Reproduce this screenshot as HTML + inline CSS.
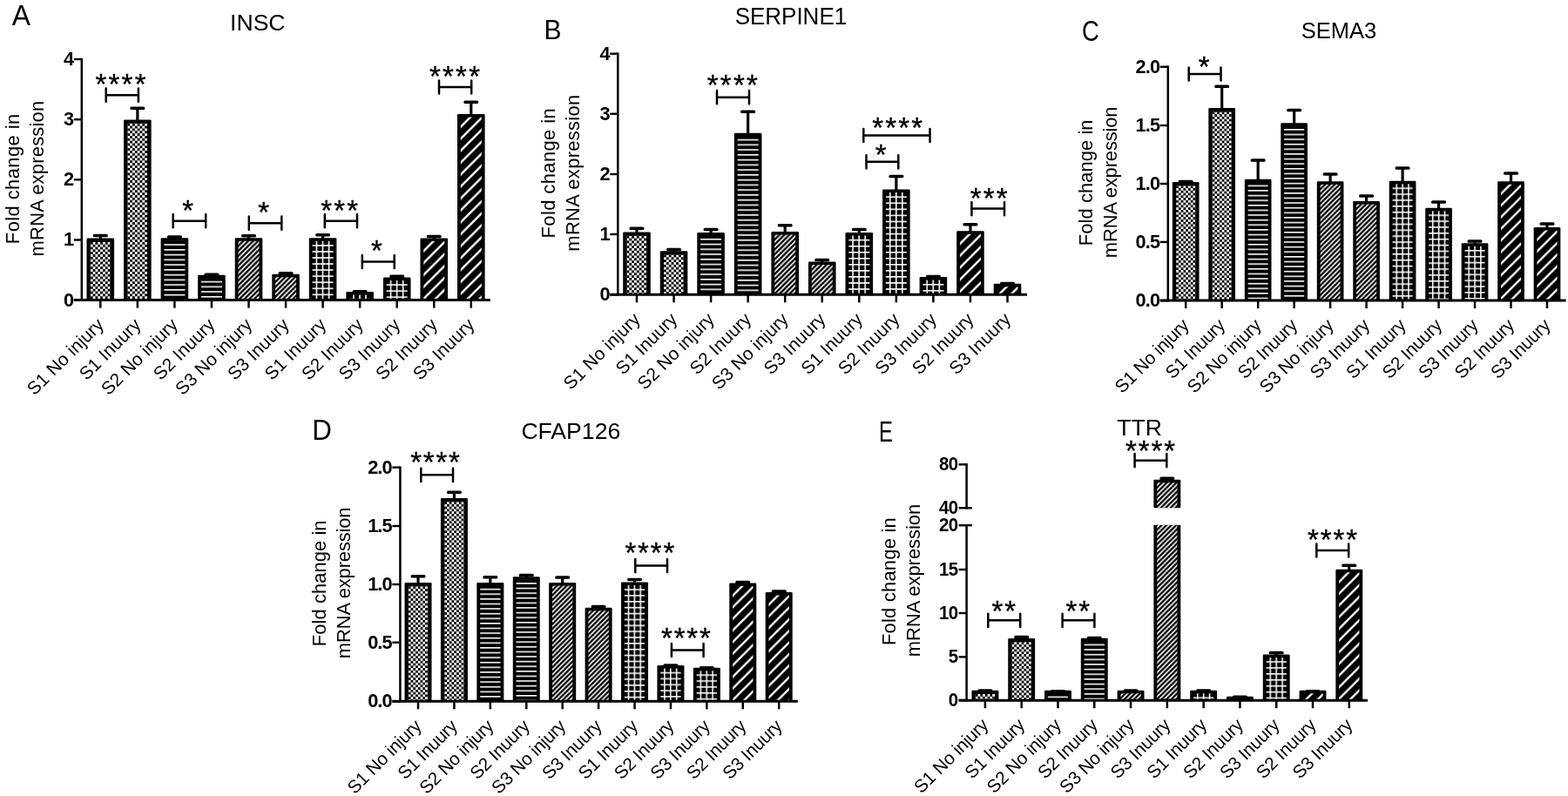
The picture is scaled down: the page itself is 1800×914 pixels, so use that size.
<!DOCTYPE html>
<html lang="en"><head><meta charset="utf-8"><title>Fold change in mRNA expression</title>
<style>
html,body{margin:0;padding:0;background:#fff;}
body{width:1800px;height:914px;overflow:hidden;}
svg{display:block;font-family:"Liberation Sans", sans-serif;}
#fig{filter:blur(0.6px);}
.tk{font-weight:bold;font-size:22.2px;text-anchor:end;letter-spacing:-0.9px;}
.xl{font-size:20.8px;text-anchor:end;letter-spacing:0.08px;}
.yl{font-size:22px;text-anchor:middle;letter-spacing:0.38px;}
.y2{letter-spacing:0.19px;}
.tt{font-size:26.6px;text-anchor:middle;}
.pl{font-size:33px;text-anchor:start;}
.st{font-size:33px;text-anchor:middle;letter-spacing:2.2px;stroke:#000;stroke-width:0.35;}
.ln{stroke:#000;fill:none;}
.bk{stroke:#000;fill:none;stroke-width:2.5;stroke-linecap:round;}
.eb{stroke:#000;fill:none;stroke-width:3.2;}
</style></head><body>
<svg width="1800" height="914" viewBox="0 0 1800 914" role="img" aria-label="Fold change in mRNA expression: INSC, SERPINE1, SEMA3, CFAP126, TTR">
<defs>
<pattern id="chk" x="2.83" y="0" width="5.67" height="5.67" patternUnits="userSpaceOnUse"><rect x="0" y="0" width="2.83" height="2.83" fill="#fff"/><rect x="2.83" y="2.83" width="2.83" height="2.83" fill="#fff"/></pattern>
<pattern id="hl" x="0" y="3.4" width="40" height="5.76" patternUnits="userSpaceOnUse"><rect x="0" y="0" width="40" height="1.6" fill="#fff"/></pattern>
<pattern id="grid" x="4" y="4.3" width="7.05" height="7.05" patternUnits="userSpaceOnUse"><rect x="0" y="0" width="7.05" height="1.6" fill="#fff"/><rect x="0" y="0" width="1.6" height="7.05" fill="#fff"/></pattern>
<pattern id="dg" x="2.83" y="0" width="5.67" height="5.67" patternUnits="userSpaceOnUse"><path d="M-5.67 5.67L5.67 -5.67M-5.67 11.34L11.34 -5.67M0 11.34L11.34 0" stroke="#fff" stroke-width="1.6" fill="none"/></pattern>
<pattern id="DG" x="11.2" y="0" width="13.7" height="13.7" patternUnits="userSpaceOnUse"><path d="M-13.7 13.7L13.7 -13.7M-13.7 27.4L27.4 -13.7M0 27.4L27.4 0" stroke="#fff" stroke-width="2.5" fill="none"/></pattern>
</defs>
<rect x="-20" y="-20" width="1840" height="954" fill="#fff"/>
<g id="fig">
<g>
<text class="pl" transform="translate(13.8,29) scale(0.95,1)" style="font-size:33.5px">A</text>
<text class="tt" transform="translate(295.8,35) scale(1,1)">INSC</text>
<text class="yl" transform="translate(21.6,205.3) rotate(-90)">Fold change in</text>
<text class="yl y2" transform="translate(49.7,205) rotate(-90)">mRNA expression</text>
<path class="eb" d="M115.3 274.6V270.5"/>
<rect x="106.8" y="268.75" width="17" height="3.5" rx="1.55" fill="#000"/>
<rect x="99.5" y="273.6" width="31.6" height="71" rx="1.2" fill="#000"/>
<svg x="103.8" y="277.9" width="22.64" height="65.5"><rect x="-50" y="-50" width="200" height="900" fill="url(#chk)"/></svg>
<path class="eb" d="M157.85 138.5V124.2"/>
<rect x="149.35" y="122.45" width="17" height="3.5" rx="1.55" fill="#000"/>
<rect x="142.05" y="137.5" width="31.6" height="207.1" rx="1.2" fill="#000"/>
<svg x="146.35" y="141.8" width="22.64" height="201.6"><rect x="-50" y="-50" width="200" height="900" fill="url(#chk)"/></svg>
<path class="eb" d="M200.4 274.3V272"/>
<rect x="191.9" y="270.25" width="17" height="3.5" rx="1.55" fill="#000"/>
<rect x="184.6" y="273.3" width="31.6" height="71.3" rx="1.2" fill="#000"/>
<svg x="188.4" y="276.8" width="24" height="66.6"><rect x="-50" y="-50" width="200" height="900" fill="url(#hl)"/></svg>
<path class="eb" d="M242.95 316.8V315.3"/>
<rect x="234.45" y="313.55" width="17" height="3.5" rx="1.55" fill="#000"/>
<rect x="227.15" y="315.8" width="31.6" height="28.8" rx="1.2" fill="#000"/>
<svg x="230.95" y="319.3" width="24" height="24.1"><rect x="-50" y="-50" width="200" height="900" fill="url(#hl)"/></svg>
<path class="eb" d="M285.5 274.3V270.8"/>
<rect x="277" y="269.05" width="17" height="3.5" rx="1.55" fill="#000"/>
<rect x="269.7" y="273.3" width="31.6" height="71.3" rx="1.2" fill="#000"/>
<svg x="273.5" y="276.8" width="24" height="66.6"><rect x="-50" y="-50" width="200" height="900" fill="url(#dg)"/></svg>
<path class="eb" d="M328.05 315.7V313.8"/>
<rect x="319.55" y="312.05" width="17" height="3.5" rx="1.55" fill="#000"/>
<rect x="312.25" y="314.7" width="31.6" height="29.9" rx="1.2" fill="#000"/>
<svg x="316.05" y="318.2" width="24" height="25.2"><rect x="-50" y="-50" width="200" height="900" fill="url(#dg)"/></svg>
<path class="eb" d="M370.6 274.3V269.7"/>
<rect x="362.1" y="267.95" width="17" height="3.5" rx="1.55" fill="#000"/>
<rect x="354.8" y="273.3" width="31.6" height="71.3" rx="1.2" fill="#000"/>
<svg x="358.6" y="276.8" width="24" height="66.6"><rect x="-50" y="-50" width="200" height="900" fill="url(#grid)"/></svg>
<rect x="404.65" y="332.95" width="17" height="3.5" rx="1.55" fill="#000"/>
<rect x="397.35" y="335" width="31.6" height="9.6" rx="1.2" fill="#000"/>
<svg x="401.15" y="338.5" width="24" height="4.9"><rect x="-50" y="-50" width="200" height="900" fill="url(#grid)"/></svg>
<path class="eb" d="M455.7 319.5V317.3"/>
<rect x="447.2" y="315.55" width="17" height="3.5" rx="1.55" fill="#000"/>
<rect x="439.9" y="318.5" width="31.6" height="26.1" rx="1.2" fill="#000"/>
<svg x="443.7" y="322" width="24" height="21.4"><rect x="-50" y="-50" width="200" height="900" fill="url(#grid)"/></svg>
<path class="eb" d="M498.25 274.6V271.5"/>
<rect x="489.75" y="269.75" width="17" height="3.5" rx="1.55" fill="#000"/>
<rect x="482.45" y="273.6" width="31.6" height="71" rx="1.2" fill="#000"/>
<svg x="486.25" y="277.1" width="24" height="66.3"><rect x="-50" y="-50" width="200" height="900" fill="url(#DG)"/></svg>
<path class="eb" d="M540.8 132V117.2"/>
<rect x="532.3" y="115.45" width="17" height="3.5" rx="1.55" fill="#000"/>
<rect x="525" y="131" width="31.6" height="213.6" rx="1.2" fill="#000"/>
<svg x="528.8" y="134.5" width="24" height="208.9"><rect x="-50" y="-50" width="200" height="900" fill="url(#DG)"/></svg>
<path class="ln" stroke-width="2.5" d="M93.8 66.75V345.85"/>
<path class="ln" stroke-width="3" d="M84.8 344.6H562.7"/>
<path class="ln" stroke-width="2.4" d="M84.8 68H93.8"/>
<text class="tk" transform="translate(84.12,74.95) scale(0.98,1)">4</text>
<path class="ln" stroke-width="2.4" d="M84.8 137.2H93.8"/>
<text class="tk" transform="translate(84.12,144.15) scale(0.98,1)">3</text>
<path class="ln" stroke-width="2.4" d="M84.8 206.3H93.8"/>
<text class="tk" transform="translate(84.12,213.25) scale(0.98,1)">2</text>
<path class="ln" stroke-width="2.4" d="M84.8 275.5H93.8"/>
<text class="tk" transform="translate(84.12,282.45) scale(0.98,1)">1</text>
<path class="ln" stroke-width="2.4" d="M84.8 344.6H93.8"/>
<text class="tk" transform="translate(84.12,351.55) scale(0.98,1)">0</text>
<path class="ln" stroke-width="2.5" d="M115.3 344.6V353.6"/>
<text class="xl" transform="translate(120.36,374.04) rotate(-45)">S1 No injury</text>
<path class="ln" stroke-width="2.5" d="M157.85 344.6V353.6"/>
<text class="xl" transform="translate(162.91,374.04) rotate(-45)">S1 Inuury</text>
<path class="ln" stroke-width="2.5" d="M200.4 344.6V353.6"/>
<text class="xl" transform="translate(205.46,374.04) rotate(-45)">S2 No injury</text>
<path class="ln" stroke-width="2.5" d="M242.95 344.6V353.6"/>
<text class="xl" transform="translate(248.01,374.04) rotate(-45)">S2 Inuury</text>
<path class="ln" stroke-width="2.5" d="M285.5 344.6V353.6"/>
<text class="xl" transform="translate(290.56,374.04) rotate(-45)">S3 No injury</text>
<path class="ln" stroke-width="2.5" d="M328.05 344.6V353.6"/>
<text class="xl" transform="translate(333.11,374.04) rotate(-45)">S3 Inuury</text>
<path class="ln" stroke-width="2.5" d="M370.6 344.6V353.6"/>
<text class="xl" transform="translate(375.66,374.04) rotate(-45)">S1 Inuury</text>
<path class="ln" stroke-width="2.5" d="M413.15 344.6V353.6"/>
<text class="xl" transform="translate(418.21,374.04) rotate(-45)">S2 Inuury</text>
<path class="ln" stroke-width="2.5" d="M455.7 344.6V353.6"/>
<text class="xl" transform="translate(460.76,374.04) rotate(-45)">S3 Inuury</text>
<path class="ln" stroke-width="2.5" d="M498.25 344.6V353.6"/>
<text class="xl" transform="translate(503.31,374.04) rotate(-45)">S2 Inuury</text>
<path class="ln" stroke-width="2.5" d="M540.8 344.6V353.6"/>
<text class="xl" transform="translate(545.86,374.04) rotate(-45)">S3 Inuury</text>
<path class="bk" d="M121.7 101.6V116.8M121.7 109.2H158.9M158.9 101.6V116.8"/>
<text class="st" x="139.6" y="108.15">****</text>
<path class="bk" d="M198.7 246.1V261.3M198.7 253.7H236.2M236.2 246.1V261.3"/>
<text class="st" x="216.75" y="252.65">*</text>
<path class="bk" d="M285.8 248.6V263.8M285.8 256.2H323.3M323.3 248.6V263.8"/>
<text class="st" x="303.85" y="255.15">*</text>
<path class="bk" d="M372.8 246.1V261.3M372.8 253.7H410M410 246.1V261.3"/>
<text class="st" x="390.7" y="252.65">***</text>
<path class="bk" d="M415.8 292.9V308.1M415.8 300.5H452.7M452.7 292.9V308.1"/>
<text class="st" x="433.55" y="299.45">*</text>
<path class="bk" d="M504 92.4V107.6M504 100H541.2M541.2 92.4V107.6"/>
<text class="st" x="523.1" y="99.25">****</text>
</g>
<g>
<text class="pl" transform="translate(624.5,44.8) scale(0.94,1)" style="font-size:32px">B</text>
<text class="tt" transform="translate(907.9,27.5) scale(0.97,1)" style="font-size:26.8px">SERPINE1</text>
<text class="yl" transform="translate(637,198.7) rotate(-90)" style="letter-spacing:0.38px">Fold change in</text>
<text class="yl y2" transform="translate(665,198.6) rotate(-90)" style="letter-spacing:0.27px">mRNA expression</text>
<path class="eb" d="M731 267.5V262.2"/>
<rect x="722.5" y="260.45" width="17" height="3.5" rx="1.55" fill="#000"/>
<rect x="715.2" y="266.5" width="31.6" height="71.8" rx="1.2" fill="#000"/>
<svg x="719.5" y="270.8" width="22.64" height="66.3"><rect x="-50" y="-50" width="200" height="900" fill="url(#chk)"/></svg>
<path class="eb" d="M773.55 289.2V286.5"/>
<rect x="765.05" y="284.75" width="17" height="3.5" rx="1.55" fill="#000"/>
<rect x="757.75" y="288.2" width="31.6" height="50.1" rx="1.2" fill="#000"/>
<svg x="762.05" y="292.5" width="22.64" height="44.6"><rect x="-50" y="-50" width="200" height="900" fill="url(#chk)"/></svg>
<path class="eb" d="M816.1 268V263.5"/>
<rect x="807.6" y="261.75" width="17" height="3.5" rx="1.55" fill="#000"/>
<rect x="800.3" y="267" width="31.6" height="71.3" rx="1.2" fill="#000"/>
<svg x="804.1" y="270.5" width="24" height="66.6"><rect x="-50" y="-50" width="200" height="900" fill="url(#hl)"/></svg>
<path class="eb" d="M858.65 153.8V128.3"/>
<rect x="850.15" y="126.55" width="17" height="3.5" rx="1.55" fill="#000"/>
<rect x="842.85" y="152.8" width="31.6" height="185.5" rx="1.2" fill="#000"/>
<svg x="846.65" y="156.3" width="24" height="180.8"><rect x="-50" y="-50" width="200" height="900" fill="url(#hl)"/></svg>
<path class="eb" d="M901.2 267V258.7"/>
<rect x="892.7" y="256.95" width="17" height="3.5" rx="1.55" fill="#000"/>
<rect x="885.4" y="266" width="31.6" height="72.3" rx="1.2" fill="#000"/>
<svg x="889.2" y="269.5" width="24" height="67.6"><rect x="-50" y="-50" width="200" height="900" fill="url(#dg)"/></svg>
<path class="eb" d="M943.75 301.5V298.5"/>
<rect x="935.25" y="296.75" width="17" height="3.5" rx="1.55" fill="#000"/>
<rect x="927.95" y="300.5" width="31.6" height="37.8" rx="1.2" fill="#000"/>
<svg x="931.75" y="304" width="24" height="33.1"><rect x="-50" y="-50" width="200" height="900" fill="url(#dg)"/></svg>
<path class="eb" d="M986.3 268V263.5"/>
<rect x="977.8" y="261.75" width="17" height="3.5" rx="1.55" fill="#000"/>
<rect x="970.5" y="267" width="31.6" height="71.3" rx="1.2" fill="#000"/>
<svg x="974.3" y="270.5" width="24" height="66.6"><rect x="-50" y="-50" width="200" height="900" fill="url(#grid)"/></svg>
<path class="eb" d="M1028.85 218.6V202.5"/>
<rect x="1020.35" y="200.75" width="17" height="3.5" rx="1.55" fill="#000"/>
<rect x="1013.05" y="217.6" width="31.6" height="120.7" rx="1.2" fill="#000"/>
<svg x="1016.85" y="221.1" width="24" height="116"><rect x="-50" y="-50" width="200" height="900" fill="url(#grid)"/></svg>
<path class="eb" d="M1071.4 319.1V317.6"/>
<rect x="1062.9" y="315.85" width="17" height="3.5" rx="1.55" fill="#000"/>
<rect x="1055.6" y="318.1" width="31.6" height="20.2" rx="1.2" fill="#000"/>
<svg x="1059.4" y="321.6" width="24" height="15.5"><rect x="-50" y="-50" width="200" height="900" fill="url(#grid)"/></svg>
<path class="eb" d="M1113.95 266.3V257.8"/>
<rect x="1105.45" y="256.05" width="17" height="3.5" rx="1.55" fill="#000"/>
<rect x="1098.15" y="265.3" width="31.6" height="73" rx="1.2" fill="#000"/>
<svg x="1101.95" y="268.8" width="24" height="68.3"><rect x="-50" y="-50" width="200" height="900" fill="url(#DG)"/></svg>
<rect x="1148" y="323.65" width="17" height="3.5" rx="1.55" fill="#000"/>
<rect x="1140.7" y="325.7" width="31.6" height="12.6" rx="1.2" fill="#000"/>
<svg x="1144.5" y="329.2" width="24" height="7.9"><rect x="-50" y="-50" width="200" height="900" fill="url(#DG)"/></svg>
<path class="ln" stroke-width="2.5" d="M709.3 60.45V339.55"/>
<path class="ln" stroke-width="3" d="M700.3 338.3H1179"/>
<path class="ln" stroke-width="2.4" d="M700.3 61.7H709.3"/>
<text class="tk" transform="translate(699.62,68.65) scale(0.98,1)">4</text>
<path class="ln" stroke-width="2.4" d="M700.3 130.7H709.3"/>
<text class="tk" transform="translate(699.62,137.65) scale(0.98,1)">3</text>
<path class="ln" stroke-width="2.4" d="M700.3 200H709.3"/>
<text class="tk" transform="translate(699.62,206.95) scale(0.98,1)">2</text>
<path class="ln" stroke-width="2.4" d="M700.3 269H709.3"/>
<text class="tk" transform="translate(699.62,275.95) scale(0.98,1)">1</text>
<path class="ln" stroke-width="2.4" d="M700.3 338.3H709.3"/>
<text class="tk" transform="translate(699.62,345.25) scale(0.98,1)">0</text>
<path class="ln" stroke-width="2.5" d="M731 338.3V347.3"/>
<text class="xl" transform="translate(736.06,367.74) rotate(-45)">S1 No injury</text>
<path class="ln" stroke-width="2.5" d="M773.55 338.3V347.3"/>
<text class="xl" transform="translate(778.61,367.74) rotate(-45)">S1 Inuury</text>
<path class="ln" stroke-width="2.5" d="M816.1 338.3V347.3"/>
<text class="xl" transform="translate(821.16,367.74) rotate(-45)">S2 No injury</text>
<path class="ln" stroke-width="2.5" d="M858.65 338.3V347.3"/>
<text class="xl" transform="translate(863.71,367.74) rotate(-45)">S2 Inuury</text>
<path class="ln" stroke-width="2.5" d="M901.2 338.3V347.3"/>
<text class="xl" transform="translate(906.26,367.74) rotate(-45)">S3 No injury</text>
<path class="ln" stroke-width="2.5" d="M943.75 338.3V347.3"/>
<text class="xl" transform="translate(948.81,367.74) rotate(-45)">S3 Inuury</text>
<path class="ln" stroke-width="2.5" d="M986.3 338.3V347.3"/>
<text class="xl" transform="translate(991.36,367.74) rotate(-45)">S1 Inuury</text>
<path class="ln" stroke-width="2.5" d="M1028.85 338.3V347.3"/>
<text class="xl" transform="translate(1033.91,367.74) rotate(-45)">S2 Inuury</text>
<path class="ln" stroke-width="2.5" d="M1071.4 338.3V347.3"/>
<text class="xl" transform="translate(1076.46,367.74) rotate(-45)">S3 Inuury</text>
<path class="ln" stroke-width="2.5" d="M1113.95 338.3V347.3"/>
<text class="xl" transform="translate(1119.01,367.74) rotate(-45)">S2 Inuury</text>
<path class="ln" stroke-width="2.5" d="M1156.5 338.3V347.3"/>
<text class="xl" transform="translate(1161.56,367.74) rotate(-45)">S3 Inuury</text>
<path class="bk" d="M823 104.1V119.3M823 111.7H860M860 104.1V119.3"/>
<text class="st" x="841.9" y="109.3">****</text>
<path class="bk" d="M991.3 147.9V163.1M991.3 155.5H1067.5M1067.5 147.9V163.1"/>
<text class="st" x="1031.3" y="157.6">****</text>
<path class="bk" d="M994.5 178.2V193.4M994.5 185.8H1031.3M1031.3 178.2V193.4"/>
<text class="st" x="1012.3" y="188.6">*</text>
<path class="bk" d="M1115.4 232V247.2M1115.4 239.6H1153M1153 232V247.2"/>
<text class="st" x="1136.3" y="238.55">***</text>
</g>
<g>
<text class="pl" transform="translate(1242,47.3) scale(0.83,1)" style="font-size:33px">C</text>
<text class="tt" transform="translate(1536.9,44.2) scale(0.96,1)" style="font-size:26.6px">SEMA3</text>
<text class="yl" transform="translate(1254.3,209.8) rotate(-90)" style="letter-spacing:0.03px">Fold change in</text>
<text class="yl y2" transform="translate(1282.2,209.4) rotate(-90)" style="letter-spacing:-0.16px">mRNA expression</text>
<path class="eb" d="M1361.2 210V208.5"/>
<rect x="1352.7" y="206.75" width="17" height="3.5" rx="1.55" fill="#000"/>
<rect x="1345.85" y="209" width="30.7" height="136.1" rx="1.2" fill="#000"/>
<svg x="1350.15" y="213.3" width="22.1" height="130.6" viewBox="0 0 22.67 133.95" preserveAspectRatio="none"><rect x="-50" y="-50" width="200" height="900" fill="url(#chk)"/></svg>
<path class="eb" d="M1402.68 125.1V99.2"/>
<rect x="1394.18" y="97.45" width="17" height="3.5" rx="1.55" fill="#000"/>
<rect x="1387.33" y="124.1" width="30.7" height="221" rx="1.2" fill="#000"/>
<svg x="1391.63" y="128.4" width="22.1" height="215.5" viewBox="0 0 22.67 221.03" preserveAspectRatio="none"><rect x="-50" y="-50" width="200" height="900" fill="url(#chk)"/></svg>
<path class="eb" d="M1444.16 206.7V184"/>
<rect x="1435.66" y="182.25" width="17" height="3.5" rx="1.55" fill="#000"/>
<rect x="1428.81" y="205.7" width="30.7" height="139.4" rx="1.2" fill="#000"/>
<svg x="1432.61" y="209.2" width="23.1" height="134.7" viewBox="0 0 23.69 138.15" preserveAspectRatio="none"><rect x="-50" y="-50" width="200" height="900" fill="url(#hl)"/></svg>
<path class="eb" d="M1485.64 142.2V126.6"/>
<rect x="1477.14" y="124.85" width="17" height="3.5" rx="1.55" fill="#000"/>
<rect x="1470.29" y="141.2" width="30.7" height="203.9" rx="1.2" fill="#000"/>
<svg x="1474.09" y="144.7" width="23.1" height="199.2" viewBox="0 0 23.69 204.31" preserveAspectRatio="none"><rect x="-50" y="-50" width="200" height="900" fill="url(#hl)"/></svg>
<path class="eb" d="M1527.12 209.3V200"/>
<rect x="1518.62" y="198.25" width="17" height="3.5" rx="1.55" fill="#000"/>
<rect x="1511.77" y="208.3" width="30.7" height="136.8" rx="1.2" fill="#000"/>
<svg x="1515.57" y="211.8" width="23.1" height="132.1" viewBox="0 0 23.69 135.49" preserveAspectRatio="none"><rect x="-50" y="-50" width="200" height="900" fill="url(#dg)"/></svg>
<path class="eb" d="M1568.6 232V225"/>
<rect x="1560.1" y="223.25" width="17" height="3.5" rx="1.55" fill="#000"/>
<rect x="1553.25" y="231" width="30.7" height="114.1" rx="1.2" fill="#000"/>
<svg x="1557.05" y="234.5" width="23.1" height="109.4" viewBox="0 0 23.69 112.21" preserveAspectRatio="none"><rect x="-50" y="-50" width="200" height="900" fill="url(#dg)"/></svg>
<path class="eb" d="M1610.08 208.7V193"/>
<rect x="1601.58" y="191.25" width="17" height="3.5" rx="1.55" fill="#000"/>
<rect x="1594.73" y="207.7" width="30.7" height="137.4" rx="1.2" fill="#000"/>
<svg x="1598.53" y="211.2" width="23.1" height="132.7" viewBox="0 0 23.69 136.1" preserveAspectRatio="none"><rect x="-50" y="-50" width="200" height="900" fill="url(#grid)"/></svg>
<path class="eb" d="M1651.56 239.7V232"/>
<rect x="1643.06" y="230.25" width="17" height="3.5" rx="1.55" fill="#000"/>
<rect x="1636.21" y="238.7" width="30.7" height="106.4" rx="1.2" fill="#000"/>
<svg x="1640.01" y="242.2" width="23.1" height="101.7" viewBox="0 0 23.69 104.31" preserveAspectRatio="none"><rect x="-50" y="-50" width="200" height="900" fill="url(#grid)"/></svg>
<path class="eb" d="M1693.04 280.3V277"/>
<rect x="1684.54" y="275.25" width="17" height="3.5" rx="1.55" fill="#000"/>
<rect x="1677.69" y="279.3" width="30.7" height="65.8" rx="1.2" fill="#000"/>
<svg x="1681.49" y="282.8" width="23.1" height="61.1" viewBox="0 0 23.69 62.67" preserveAspectRatio="none"><rect x="-50" y="-50" width="200" height="900" fill="url(#grid)"/></svg>
<path class="eb" d="M1734.52 209.3V199"/>
<rect x="1726.02" y="197.25" width="17" height="3.5" rx="1.55" fill="#000"/>
<rect x="1719.17" y="208.3" width="30.7" height="136.8" rx="1.2" fill="#000"/>
<svg x="1722.97" y="211.8" width="23.1" height="132.1" viewBox="0 0 23.69 135.49" preserveAspectRatio="none"><rect x="-50" y="-50" width="200" height="900" fill="url(#DG)"/></svg>
<path class="eb" d="M1776 262V257"/>
<rect x="1767.5" y="255.25" width="17" height="3.5" rx="1.55" fill="#000"/>
<rect x="1760.65" y="261" width="30.7" height="84.1" rx="1.2" fill="#000"/>
<svg x="1764.45" y="264.5" width="23.1" height="79.4" viewBox="0 0 23.69 81.44" preserveAspectRatio="none"><rect x="-50" y="-50" width="200" height="900" fill="url(#DG)"/></svg>
<path class="ln" stroke-width="2.5" d="M1340.8 75.45V346.35"/>
<path class="ln" stroke-width="3" d="M1331.8 345.1H1797.6"/>
<path class="ln" stroke-width="2.4" d="M1331.8 76.7H1340.8"/>
<text class="tk" transform="translate(1331.12,83.65) scale(0.98,1)">2.0</text>
<path class="ln" stroke-width="2.4" d="M1331.8 144H1340.8"/>
<text class="tk" transform="translate(1331.12,150.95) scale(0.98,1)">1.5</text>
<path class="ln" stroke-width="2.4" d="M1331.8 211H1340.8"/>
<text class="tk" transform="translate(1331.12,217.95) scale(0.98,1)">1.0</text>
<path class="ln" stroke-width="2.4" d="M1331.8 277.9H1340.8"/>
<text class="tk" transform="translate(1331.12,284.85) scale(0.98,1)">0.5</text>
<path class="ln" stroke-width="2.4" d="M1331.8 345.1H1340.8"/>
<text class="tk" transform="translate(1331.12,352.05) scale(0.98,1)">0.0</text>
<path class="ln" stroke-width="2.5" d="M1361.2 345.1V354.1"/>
<text class="xl" transform="translate(1365.99,374.81) rotate(-45)" style="letter-spacing:-0.29px">S1 No injury</text>
<path class="ln" stroke-width="2.5" d="M1402.68 345.1V354.1"/>
<text class="xl" transform="translate(1407.47,374.81) rotate(-45)" style="letter-spacing:-0.29px">S1 Inuury</text>
<path class="ln" stroke-width="2.5" d="M1444.16 345.1V354.1"/>
<text class="xl" transform="translate(1448.95,374.81) rotate(-45)" style="letter-spacing:-0.29px">S2 No injury</text>
<path class="ln" stroke-width="2.5" d="M1485.64 345.1V354.1"/>
<text class="xl" transform="translate(1490.43,374.81) rotate(-45)" style="letter-spacing:-0.29px">S2 Inuury</text>
<path class="ln" stroke-width="2.5" d="M1527.12 345.1V354.1"/>
<text class="xl" transform="translate(1531.91,374.81) rotate(-45)" style="letter-spacing:-0.29px">S3 No injury</text>
<path class="ln" stroke-width="2.5" d="M1568.6 345.1V354.1"/>
<text class="xl" transform="translate(1573.39,374.81) rotate(-45)" style="letter-spacing:-0.29px">S3 Inuury</text>
<path class="ln" stroke-width="2.5" d="M1610.08 345.1V354.1"/>
<text class="xl" transform="translate(1614.87,374.81) rotate(-45)" style="letter-spacing:-0.29px">S1 Inuury</text>
<path class="ln" stroke-width="2.5" d="M1651.56 345.1V354.1"/>
<text class="xl" transform="translate(1656.35,374.81) rotate(-45)" style="letter-spacing:-0.29px">S2 Inuury</text>
<path class="ln" stroke-width="2.5" d="M1693.04 345.1V354.1"/>
<text class="xl" transform="translate(1697.83,374.81) rotate(-45)" style="letter-spacing:-0.29px">S3 Inuury</text>
<path class="ln" stroke-width="2.5" d="M1734.52 345.1V354.1"/>
<text class="xl" transform="translate(1739.31,374.81) rotate(-45)" style="letter-spacing:-0.29px">S2 Inuury</text>
<path class="ln" stroke-width="2.5" d="M1776 345.1V354.1"/>
<text class="xl" transform="translate(1780.79,374.81) rotate(-45)" style="letter-spacing:-0.29px">S3 Inuury</text>
<path class="bk" d="M1364.7 77.4V92.6M1364.7 85H1401.5M1401.5 77.4V92.6"/>
<text class="st" x="1383" y="88.25" style="letter-spacing:1.8px">*</text>
</g>
<g>
<text class="pl" transform="translate(358.2,504.9) scale(0.95,1)" style="font-size:33px">D</text>
<text class="tt" transform="translate(655.3,503.6) scale(1,1)">CFAP126</text>
<text class="yl" transform="translate(374,669.8) rotate(-90)" style="letter-spacing:0.03px">Fold change in</text>
<text class="yl y2" transform="translate(402,669.4) rotate(-90)" style="letter-spacing:-0.16px">mRNA expression</text>
<path class="eb" d="M480 670V661.8"/>
<rect x="471.5" y="660.05" width="17" height="3.5" rx="1.55" fill="#000"/>
<rect x="464.5" y="669" width="31" height="136.3" rx="1.2" fill="#000"/>
<svg x="468.8" y="673.3" width="22.4" height="130.8" viewBox="0 0 23.02 134.43" preserveAspectRatio="none"><rect x="-50" y="-50" width="200" height="900" fill="url(#chk)"/></svg>
<path class="eb" d="M521.42 572.9V565.2"/>
<rect x="512.92" y="563.45" width="17" height="3.5" rx="1.55" fill="#000"/>
<rect x="505.92" y="571.9" width="31" height="233.4" rx="1.2" fill="#000"/>
<svg x="510.22" y="576.2" width="22.4" height="227.9" viewBox="0 0 23.02 234.22" preserveAspectRatio="none"><rect x="-50" y="-50" width="200" height="900" fill="url(#chk)"/></svg>
<path class="eb" d="M562.84 670V662.8"/>
<rect x="554.34" y="661.05" width="17" height="3.5" rx="1.55" fill="#000"/>
<rect x="547.34" y="669" width="31" height="136.3" rx="1.2" fill="#000"/>
<svg x="551.14" y="672.5" width="23.4" height="131.6" viewBox="0 0 24.05 135.25" preserveAspectRatio="none"><rect x="-50" y="-50" width="200" height="900" fill="url(#hl)"/></svg>
<path class="eb" d="M604.26 663.3V660.5"/>
<rect x="595.76" y="658.75" width="17" height="3.5" rx="1.55" fill="#000"/>
<rect x="588.76" y="662.3" width="31" height="143" rx="1.2" fill="#000"/>
<svg x="592.56" y="665.8" width="23.4" height="138.3" viewBox="0 0 24.05 142.14" preserveAspectRatio="none"><rect x="-50" y="-50" width="200" height="900" fill="url(#hl)"/></svg>
<path class="eb" d="M645.68 670V663"/>
<rect x="637.18" y="661.25" width="17" height="3.5" rx="1.55" fill="#000"/>
<rect x="630.18" y="669" width="31" height="136.3" rx="1.2" fill="#000"/>
<svg x="633.98" y="672.5" width="23.4" height="131.6" viewBox="0 0 24.05 135.25" preserveAspectRatio="none"><rect x="-50" y="-50" width="200" height="900" fill="url(#dg)"/></svg>
<path class="eb" d="M687.1 698.7V696.5"/>
<rect x="678.6" y="694.75" width="17" height="3.5" rx="1.55" fill="#000"/>
<rect x="671.6" y="697.7" width="31" height="107.6" rx="1.2" fill="#000"/>
<svg x="675.4" y="701.2" width="23.4" height="102.9" viewBox="0 0 24.05 105.76" preserveAspectRatio="none"><rect x="-50" y="-50" width="200" height="900" fill="url(#dg)"/></svg>
<path class="eb" d="M728.52 669.6V665.4"/>
<rect x="720.02" y="663.65" width="17" height="3.5" rx="1.55" fill="#000"/>
<rect x="713.02" y="668.6" width="31" height="136.7" rx="1.2" fill="#000"/>
<svg x="716.82" y="672.1" width="23.4" height="132" viewBox="0 0 24.05 135.66" preserveAspectRatio="none"><rect x="-50" y="-50" width="200" height="900" fill="url(#grid)"/></svg>
<rect x="761.44" y="762.25" width="17" height="3.5" rx="1.55" fill="#000"/>
<rect x="754.44" y="764" width="31" height="41.3" rx="1.2" fill="#000"/>
<svg x="758.24" y="767.5" width="23.4" height="36.6" viewBox="0 0 24.05 37.62" preserveAspectRatio="none"><rect x="-50" y="-50" width="200" height="900" fill="url(#grid)"/></svg>
<rect x="802.86" y="764.95" width="17" height="3.5" rx="1.55" fill="#000"/>
<rect x="795.86" y="766.7" width="31" height="38.6" rx="1.2" fill="#000"/>
<svg x="799.66" y="770.2" width="23.4" height="33.9" viewBox="0 0 24.05 34.84" preserveAspectRatio="none"><rect x="-50" y="-50" width="200" height="900" fill="url(#grid)"/></svg>
<path class="eb" d="M852.78 670.6V668.5"/>
<rect x="844.28" y="666.75" width="17" height="3.5" rx="1.55" fill="#000"/>
<rect x="837.28" y="669.6" width="31" height="135.7" rx="1.2" fill="#000"/>
<svg x="841.08" y="673.1" width="23.4" height="131" viewBox="0 0 24.05 134.64" preserveAspectRatio="none"><rect x="-50" y="-50" width="200" height="900" fill="url(#DG)"/></svg>
<path class="eb" d="M894.2 681V679"/>
<rect x="885.7" y="677.25" width="17" height="3.5" rx="1.55" fill="#000"/>
<rect x="878.7" y="680" width="31" height="125.3" rx="1.2" fill="#000"/>
<svg x="882.5" y="683.5" width="23.4" height="120.6" viewBox="0 0 24.05 123.95" preserveAspectRatio="none"><rect x="-50" y="-50" width="200" height="900" fill="url(#DG)"/></svg>
<path class="ln" stroke-width="2.5" d="M459.4 535.45V806.55"/>
<path class="ln" stroke-width="3" d="M450.4 805.3H915.8"/>
<path class="ln" stroke-width="2.4" d="M450.4 536.7H459.4"/>
<text class="tk" transform="translate(449.72,543.65) scale(0.98,1)">2.0</text>
<path class="ln" stroke-width="2.4" d="M450.4 604H459.4"/>
<text class="tk" transform="translate(449.72,610.95) scale(0.98,1)">1.5</text>
<path class="ln" stroke-width="2.4" d="M450.4 671H459.4"/>
<text class="tk" transform="translate(449.72,677.95) scale(0.98,1)">1.0</text>
<path class="ln" stroke-width="2.4" d="M450.4 737.7H459.4"/>
<text class="tk" transform="translate(449.72,744.65) scale(0.98,1)">0.5</text>
<path class="ln" stroke-width="2.4" d="M450.4 805.3H459.4"/>
<text class="tk" transform="translate(449.72,812.25) scale(0.98,1)">0.0</text>
<path class="ln" stroke-width="2.5" d="M480 805.3V814.3"/>
<text class="xl" transform="translate(484.79,835.01) rotate(-45)" style="letter-spacing:-0.29px">S1 No injury</text>
<path class="ln" stroke-width="2.5" d="M521.42 805.3V814.3"/>
<text class="xl" transform="translate(526.21,835.01) rotate(-45)" style="letter-spacing:-0.29px">S1 Inuury</text>
<path class="ln" stroke-width="2.5" d="M562.84 805.3V814.3"/>
<text class="xl" transform="translate(567.63,835.01) rotate(-45)" style="letter-spacing:-0.29px">S2 No injury</text>
<path class="ln" stroke-width="2.5" d="M604.26 805.3V814.3"/>
<text class="xl" transform="translate(609.05,835.01) rotate(-45)" style="letter-spacing:-0.29px">S2 Inuury</text>
<path class="ln" stroke-width="2.5" d="M645.68 805.3V814.3"/>
<text class="xl" transform="translate(650.47,835.01) rotate(-45)" style="letter-spacing:-0.29px">S3 No injury</text>
<path class="ln" stroke-width="2.5" d="M687.1 805.3V814.3"/>
<text class="xl" transform="translate(691.89,835.01) rotate(-45)" style="letter-spacing:-0.29px">S3 Inuury</text>
<path class="ln" stroke-width="2.5" d="M728.52 805.3V814.3"/>
<text class="xl" transform="translate(733.31,835.01) rotate(-45)" style="letter-spacing:-0.29px">S1 Inuury</text>
<path class="ln" stroke-width="2.5" d="M769.94 805.3V814.3"/>
<text class="xl" transform="translate(774.73,835.01) rotate(-45)" style="letter-spacing:-0.29px">S2 Inuury</text>
<path class="ln" stroke-width="2.5" d="M811.36 805.3V814.3"/>
<text class="xl" transform="translate(816.15,835.01) rotate(-45)" style="letter-spacing:-0.29px">S3 Inuury</text>
<path class="ln" stroke-width="2.5" d="M852.78 805.3V814.3"/>
<text class="xl" transform="translate(857.57,835.01) rotate(-45)" style="letter-spacing:-0.29px">S2 Inuury</text>
<path class="ln" stroke-width="2.5" d="M894.2 805.3V814.3"/>
<text class="xl" transform="translate(898.99,835.01) rotate(-45)" style="letter-spacing:-0.29px">S3 Inuury</text>
<path class="bk" d="M483.3 537.7V552.9M483.3 545.3H520M520 537.7V552.9"/>
<text class="st" x="500.45" y="541.75" style="letter-spacing:1.8px">****</text>
<path class="bk" d="M729.3 641.9V657.1M729.3 649.5H766M766 641.9V657.1"/>
<text class="st" x="746.75" y="645.95" style="letter-spacing:1.8px">****</text>
<path class="bk" d="M770.9 738.9V754.1M770.9 746.5H807.6M807.6 738.9V754.1"/>
<text class="st" x="788.35" y="743.65" style="letter-spacing:1.8px">****</text>
</g>
<g>
<text class="pl" transform="translate(1008.9,507.3) scale(0.72,1)" style="font-size:33px">E</text>
<text class="tt" transform="translate(1308,500) scale(1,1)">TTR</text>
<text class="yl" transform="translate(1028.4,667.6) rotate(-90)" style="letter-spacing:0.19px">Fold change in</text>
<text class="yl y2" transform="translate(1055.5,666.5) rotate(-90)" style="letter-spacing:-0.04px">mRNA expression</text>
<rect x="1122.4" y="791.15" width="17" height="3.5" rx="1.55" fill="#000"/>
<rect x="1115.45" y="792.7" width="30.9" height="11.5" rx="1.2" fill="#000"/>
<svg x="1119.75" y="797" width="22.3" height="6" viewBox="0 0 22.76 6.12" preserveAspectRatio="none"><rect x="-50" y="-50" width="200" height="900" fill="url(#chk)"/></svg>
<path class="eb" d="M1172.69 733.9V731.5"/>
<rect x="1164.19" y="729.75" width="17" height="3.5" rx="1.55" fill="#000"/>
<rect x="1157.24" y="732.9" width="30.9" height="71.3" rx="1.2" fill="#000"/>
<svg x="1161.54" y="737.2" width="22.3" height="65.8" viewBox="0 0 22.76 67.14" preserveAspectRatio="none"><rect x="-50" y="-50" width="200" height="900" fill="url(#chk)"/></svg>
<rect x="1205.98" y="792.05" width="17" height="3.5" rx="1.55" fill="#000"/>
<rect x="1199.03" y="792.7" width="30.9" height="11.5" rx="1.2" fill="#000"/>
<svg x="1202.83" y="796.2" width="23.3" height="6.8" viewBox="0 0 23.78 6.94" preserveAspectRatio="none"><rect x="-50" y="-50" width="200" height="900" fill="url(#hl)"/></svg>
<rect x="1247.77" y="730.85" width="17" height="3.5" rx="1.55" fill="#000"/>
<rect x="1240.82" y="732.7" width="30.9" height="71.5" rx="1.2" fill="#000"/>
<svg x="1244.62" y="736.2" width="23.3" height="66.8" viewBox="0 0 23.78 68.16" preserveAspectRatio="none"><rect x="-50" y="-50" width="200" height="900" fill="url(#hl)"/></svg>
<rect x="1289.56" y="791.15" width="17" height="3.5" rx="1.55" fill="#000"/>
<rect x="1282.61" y="792.7" width="30.9" height="11.5" rx="1.2" fill="#000"/>
<svg x="1286.41" y="796.2" width="23.3" height="6.8" viewBox="0 0 23.78 6.94" preserveAspectRatio="none"><rect x="-50" y="-50" width="200" height="900" fill="url(#dg)"/></svg>
<path class="eb" d="M1339.85 551.8V549.2"/>
<rect x="1331.35" y="547.45" width="17" height="3.5" rx="1.55" fill="#000"/>
<rect x="1324.4" y="550.8" width="30.9" height="32.4" rx="1.2" fill="#000"/>
<svg x="1328.2" y="554.3" width="23.3" height="28.9" viewBox="0 0 23.78 29.49" preserveAspectRatio="none"><rect x="-50" y="-50" width="200" height="900" fill="url(#dg)"/></svg>
<rect x="1324.4" y="602.8" width="30.9" height="201.2" rx="0" fill="#000"/>
<svg x="1328.2" y="602.8" width="23.3" height="200" viewBox="0 0 23.78 204.08" preserveAspectRatio="none"><rect x="-50" y="-50" width="200" height="900" fill="url(#dg)"/></svg>
<rect x="1373.14" y="791.15" width="17" height="3.5" rx="1.55" fill="#000"/>
<rect x="1366.19" y="792.7" width="30.9" height="11.5" rx="1.2" fill="#000"/>
<svg x="1369.99" y="796.2" width="23.3" height="6.8" viewBox="0 0 23.78 6.94" preserveAspectRatio="none"><rect x="-50" y="-50" width="200" height="900" fill="url(#grid)"/></svg>
<rect x="1414.93" y="798.45" width="17" height="3.5" rx="1.55" fill="#000"/>
<rect x="1407.98" y="799.7" width="30.9" height="4.5" rx="1.2" fill="#000"/>
<path class="eb" d="M1465.22 752.5V749.6"/>
<rect x="1456.72" y="747.85" width="17" height="3.5" rx="1.55" fill="#000"/>
<rect x="1449.77" y="751.5" width="30.9" height="52.7" rx="1.2" fill="#000"/>
<svg x="1453.57" y="755" width="23.3" height="48" viewBox="0 0 23.78 48.98" preserveAspectRatio="none"><rect x="-50" y="-50" width="200" height="900" fill="url(#grid)"/></svg>
<rect x="1498.51" y="792.05" width="17" height="3.5" rx="1.55" fill="#000"/>
<rect x="1491.56" y="792.7" width="30.9" height="11.5" rx="1.2" fill="#000"/>
<svg x="1495.36" y="796.2" width="23.3" height="6.8" viewBox="0 0 23.78 6.94" preserveAspectRatio="none"><rect x="-50" y="-50" width="200" height="900" fill="url(#DG)"/></svg>
<path class="eb" d="M1548.8 654.8V649.2"/>
<rect x="1540.3" y="647.45" width="17" height="3.5" rx="1.55" fill="#000"/>
<rect x="1533.35" y="653.8" width="30.9" height="150.4" rx="1.2" fill="#000"/>
<svg x="1537.15" y="657.3" width="23.3" height="145.7" viewBox="0 0 23.78 148.67" preserveAspectRatio="none"><rect x="-50" y="-50" width="200" height="900" fill="url(#DG)"/></svg>
<path class="ln" stroke-width="2.5" d="M1109.6 532.05V584.55"/>
<path class="ln" stroke-width="2.5" d="M1109.6 601.95V805.25"/>
<path class="ln" stroke-width="3" d="M1100.6 804.2H1570"/>
<path class="ln" stroke-width="2.4" d="M1100.6 533.3H1109.6"/>
<text class="tk" transform="translate(1099.17,539.85) scale(0.92,1)">80</text>
<path class="ln" stroke-width="2.4" d="M1100.6 583.3H1115.9"/>
<text class="tk" transform="translate(1099.17,589.85) scale(0.92,1)">40</text>
<path class="ln" stroke-width="2.4" d="M1100.6 603.2H1115.9"/>
<text class="tk" transform="translate(1099.17,609.75) scale(0.92,1)">20</text>
<path class="ln" stroke-width="2.4" d="M1100.6 654H1109.6"/>
<text class="tk" transform="translate(1099.17,660.55) scale(0.92,1)">15</text>
<path class="ln" stroke-width="2.4" d="M1100.6 704H1109.6"/>
<text class="tk" transform="translate(1099.17,710.55) scale(0.92,1)">10</text>
<path class="ln" stroke-width="2.4" d="M1100.6 754.3H1109.6"/>
<text class="tk" transform="translate(1099.17,760.85) scale(0.92,1)">5</text>
<path class="ln" stroke-width="2.4" d="M1100.6 804H1109.6"/>
<text class="tk" transform="translate(1099.17,810.55) scale(0.92,1)">0</text>
<path class="ln" stroke-width="2.5" d="M1130.9 804.2V813.2"/>
<text class="xl" transform="translate(1135.73,833.87) rotate(-45)" style="letter-spacing:-0.24px">S1 No injury</text>
<path class="ln" stroke-width="2.5" d="M1172.69 804.2V813.2"/>
<text class="xl" transform="translate(1177.52,833.87) rotate(-45)" style="letter-spacing:-0.24px">S1 Inuury</text>
<path class="ln" stroke-width="2.5" d="M1214.48 804.2V813.2"/>
<text class="xl" transform="translate(1219.31,833.87) rotate(-45)" style="letter-spacing:-0.24px">S2 No injury</text>
<path class="ln" stroke-width="2.5" d="M1256.27 804.2V813.2"/>
<text class="xl" transform="translate(1261.1,833.87) rotate(-45)" style="letter-spacing:-0.24px">S2 Inuury</text>
<path class="ln" stroke-width="2.5" d="M1298.06 804.2V813.2"/>
<text class="xl" transform="translate(1302.89,833.87) rotate(-45)" style="letter-spacing:-0.24px">S3 No injury</text>
<path class="ln" stroke-width="2.5" d="M1339.85 804.2V813.2"/>
<text class="xl" transform="translate(1344.68,833.87) rotate(-45)" style="letter-spacing:-0.24px">S3 Inuury</text>
<path class="ln" stroke-width="2.5" d="M1381.64 804.2V813.2"/>
<text class="xl" transform="translate(1386.47,833.87) rotate(-45)" style="letter-spacing:-0.24px">S1 Inuury</text>
<path class="ln" stroke-width="2.5" d="M1423.43 804.2V813.2"/>
<text class="xl" transform="translate(1428.26,833.87) rotate(-45)" style="letter-spacing:-0.24px">S2 Inuury</text>
<path class="ln" stroke-width="2.5" d="M1465.22 804.2V813.2"/>
<text class="xl" transform="translate(1470.05,833.87) rotate(-45)" style="letter-spacing:-0.24px">S3 Inuury</text>
<path class="ln" stroke-width="2.5" d="M1507.01 804.2V813.2"/>
<text class="xl" transform="translate(1511.84,833.87) rotate(-45)" style="letter-spacing:-0.24px">S2 Inuury</text>
<path class="ln" stroke-width="2.5" d="M1548.8 804.2V813.2"/>
<text class="xl" transform="translate(1553.63,833.87) rotate(-45)" style="letter-spacing:-0.24px">S3 Inuury</text>
<path class="bk" d="M1134.3 704.7V719.9M1134.3 712.3H1171.2M1171.2 704.7V719.9"/>
<text class="st" x="1153.2" y="712.75" style="letter-spacing:1.9px">**</text>
<path class="bk" d="M1219.6 704.7V719.9M1219.6 712.3H1256.4M1256.4 704.7V719.9"/>
<text class="st" x="1238.35" y="712.75" style="letter-spacing:1.9px">**</text>
<path class="bk" d="M1302.6 521.1V536.3M1302.6 528.7H1339.3M1339.3 521.1V536.3"/>
<text class="st" x="1321.4" y="528.8" style="letter-spacing:1.9px">****</text>
<path class="bk" d="M1511.3 624.4V639.6M1511.3 632H1548.2M1548.2 624.4V639.6"/>
<text class="st" x="1530.5" y="631.25" style="letter-spacing:1.9px">****</text>
</g>
</g>
</svg>
</body></html>
